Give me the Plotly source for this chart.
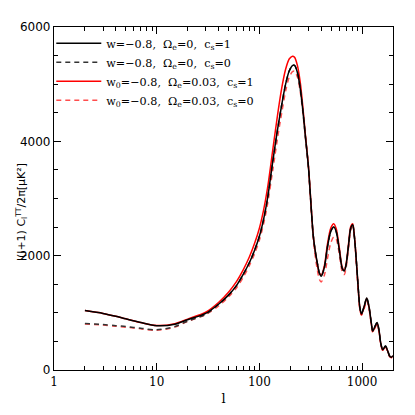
import plotly.graph_objects as go

ell = [2, 3, 4, 5, 7, 10, 15, 20, 30, 40, 50, 60, 70, 80, 90, 100, 110, 120, 135, 150,
       165, 180, 195, 210, 220, 235, 250, 265, 280, 300, 317, 334, 350, 366, 383, 400,
       430, 460, 495, 530, 560, 600, 640, 670, 700, 740, 775, 810, 845, 880, 912, 950,
       985, 1050, 1110, 1170, 1230, 1270, 1340, 1400, 1460, 1520, 1590, 1690, 1780, 1860,
       1930, 2000]

black_solid = [1040, 990, 940, 895, 830, 775, 800, 880, 990, 1150, 1310, 1480, 1680, 1880, 2100, 2340, 2640, 3000, 3650, 4200,
               4640, 5000, 5230, 5325, 5330, 5200, 4920, 4540, 4100, 3560, 2931, 2362, 2080, 1880, 1700, 1640,
               1800, 2150, 2420, 2500, 2420, 2100, 1780, 1730, 1850, 2200, 2480, 2540, 2300, 1900, 1500, 1100,
               980, 1120, 1260, 1100, 820, 680, 770, 830, 700, 470, 355, 420, 330, 240,
               225, 250]

black_dashed = [815, 795, 775, 760, 730, 703, 760, 855, 975, 1150, 1310, 1480, 1680, 1880, 2100, 2340, 2640, 3000, 3650, 4200,
                4640, 5000, 5230, 5325, 5330, 5200, 4920, 4540, 4100, 3560, 2931, 2362, 2080, 1880, 1700, 1640,
                1800, 2150, 2420, 2500, 2420, 2100, 1780, 1730, 1850, 2200, 2480, 2540, 2300, 1900, 1500, 1100,
                980, 1120, 1260, 1100, 820, 680, 770, 830, 700, 470, 355, 420, 330, 240,
                225, 250]

red_solid = [1040, 990, 940, 895, 830, 778, 810, 890, 1010, 1180, 1360, 1550, 1760, 1980, 2220, 2480, 2800, 3180, 3850, 4450,
             4930, 5260, 5440, 5490, 5470, 5320, 5030, 4600, 4130, 3580, 2945, 2370, 2070, 1860, 1700, 1660,
             1830, 2200, 2480, 2560, 2470, 2140, 1800, 1740, 1870, 2230, 2510, 2560, 2310, 1890, 1480, 1080,
             965, 1110, 1250, 1090, 810, 670, 760, 820, 690, 460, 345, 410, 325, 235,
             220, 245]

red_dashed = [805, 785, 765, 750, 720, 695, 750, 850, 970, 1120, 1280, 1440, 1630, 1830, 2040, 2270, 2560, 2900, 3500, 4050,
              4500, 4880, 5120, 5220, 5230, 5120, 4870, 4500, 4080, 3540, 2900, 2310, 1990, 1760, 1590, 1540,
              1660, 1950, 2220, 2330, 2290, 2030, 1720, 1670, 1800, 2150, 2440, 2500, 2280, 1860, 1470, 1080,
              960, 1080, 1210, 1060, 790, 660, 740, 800, 670, 450, 340, 400, 320, 230,
              215, 245]

names = ["w=\u22120.8,&nbsp; \u03a9<sub>e</sub>=0,&nbsp; c<sub>s</sub>=1",
         "w=\u22120.8,&nbsp; \u03a9<sub>e</sub>=0,&nbsp; c<sub>s</sub>=0",
         "w<sub>0</sub>=\u22120.8,&nbsp; \u03a9<sub>e</sub>=0.03,&nbsp; c<sub>s</sub>=1",
         "w<sub>0</sub>=\u22120.8,&nbsp; \u03a9<sub>e</sub>=0.03,&nbsp; c<sub>s</sub>=0"]

fig = go.Figure()
# draw red first so black sits on top; legend order via legendrank
fig.add_trace(go.Scatter(x=ell, y=red_dashed, mode="lines", name=names[3], legendrank=4,
                         line=dict(color="#ff4d4d", width=1.5, dash="5px,4px", shape="spline", smoothing=0.8)))
fig.add_trace(go.Scatter(x=ell, y=red_solid, mode="lines", name=names[2], legendrank=3,
                         line=dict(color="#ff0000", width=1.5, shape="spline", smoothing=0.8)))
fig.add_trace(go.Scatter(x=ell, y=black_dashed, mode="lines", name=names[1], legendrank=2,
                         line=dict(color="#333333", width=1.5, dash="5px,4px", shape="spline", smoothing=0.8)))
fig.add_trace(go.Scatter(x=ell, y=black_solid, mode="lines", name=names[0], legendrank=1,
                         line=dict(color="#000000", width=1.5, shape="spline", smoothing=0.8)))

# page body has an 8px offset; margins compensate so the plot box lands at x 45-393, y 22-370
fig.update_layout(
    width=415, height=415,
    margin=dict(l=37, r=30, t=14, b=53),
    paper_bgcolor="white", plot_bgcolor="white",
    showlegend=True,
    legend=dict(x=-0.008, y=0.995, xanchor="left", yanchor="top", bgcolor="rgba(0,0,0,0)",
                font=dict(family="DejaVu Serif", size=11.2, color="black"),
                itemwidth=45, tracegroupgap=0),
    xaxis=dict(type="log", range=[0, 3.30103], showgrid=False, zeroline=False,
               showline=True, linecolor="black", linewidth=1.2, mirror="ticks",
               ticks="inside", ticklen=7, tickwidth=1, tickcolor="black",
               tickvals=[1, 10, 100, 1000], ticktext=["1", "10", "100", "1000"],
               tickfont=dict(family="DejaVu Serif", size=12, color="black"),
               minor=dict(ticks="inside", ticklen=4, tickwidth=1, tickcolor="black", dtick="D1", showgrid=False),
               title=dict(text="l", font=dict(family="DejaVu Serif", size=13, color="black"), standoff=6)),
    yaxis=dict(range=[0, 6000], showgrid=False, zeroline=False,
               showline=True, linecolor="black", linewidth=1.2, mirror="ticks",
               ticks="inside", ticklen=7, tickwidth=1, tickcolor="black",
               tickvals=[0, 2000, 4000, 6000],
               tickfont=dict(family="DejaVu Sans", size=12, color="black"),
               minor=dict(ticks="inside", ticklen=4, tickwidth=1, tickcolor="black", dtick=500, showgrid=False)),
)

fig.add_annotation(text="l(l+1) C<sub>l</sub><sup>TT</sup>/2\u03c0[\u03bcK\u00b2]",
                   textangle=-90, xref="paper", yref="paper", x=-0.095, y=0.46,
                   xanchor="center", yanchor="middle", showarrow=False,
                   font=dict(family="DejaVu Sans", size=11, color="black"))

fig.write_html("out.html")
